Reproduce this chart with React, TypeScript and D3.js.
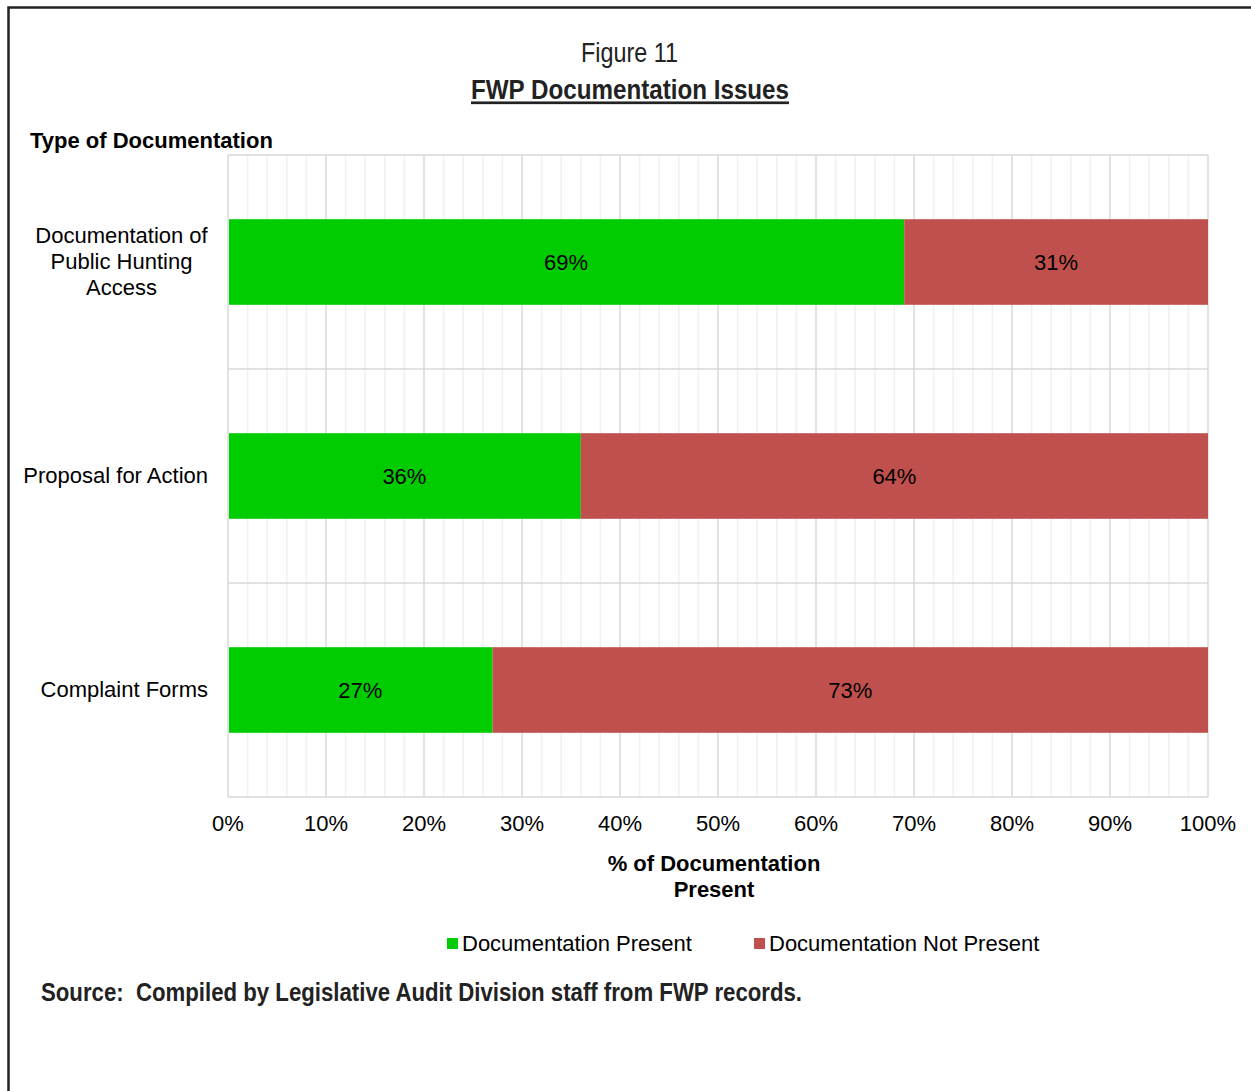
import React, { useRef, useEffect } from 'react';
import * as d3 from 'd3';

const categories = ['Documentation of\nPublic Hunting\nAccess', 'Proposal for Action', 'Complaint Forms'];
const presentValues = [69, 36, 27];
const notPresentValues = [31, 64, 73];
const seriesNames = ['Documentation Present', 'Documentation Not Present'];
const xTicks = [0, 10, 20, 30, 40, 50, 60, 70, 80, 90, 100];

const W = 1251;
const H = 1091;
const SANS = "'Liberation Sans', Arial, sans-serif";
const FS = '22px';

const App = () => {
  const ref = useRef<SVGSVGElement>(null);

  useEffect(() => {
    const svg = d3.select(ref.current).attr('width', W).attr('height', H);
    svg.selectAll('*').remove();

    svg.append('rect').attr('width', W).attr('height', H).attr('fill', '#fff');

    // outer frame (only left + top show)
    svg.append('path')
      .attr('d', `M8.5,${H} L8.5,7.5 L${W},7.5`)
      .attr('fill', 'none')
      .attr('stroke', '#222')
      .attr('stroke-width', 2.5);

    const left = 228, right = 1208, top = 155, bottom = 797;

    const x = d3.scaleLinear().domain([0, 100]).range([left, right]);
    const y = d3.scaleBand().domain(categories).range([top, bottom]);
    const barH = y.bandwidth() * 0.4;

    // minor gridlines
    svg.append('g').selectAll('line')
      .data(d3.range(0, 101, 2).filter(v => v % 10 !== 0))
      .enter().append('line')
      .attr('x1', d => x(d)).attr('x2', d => x(d))
      .attr('y1', top).attr('y2', bottom)
      .attr('stroke', '#f0f0f0').attr('stroke-width', 1.5);

    // major gridlines
    svg.append('g').selectAll('line')
      .data(xTicks)
      .enter().append('line')
      .attr('x1', d => x(d)).attr('x2', d => x(d))
      .attr('y1', top).attr('y2', bottom)
      .attr('stroke', '#d9d9d9').attr('stroke-width', 1.5);

    // horizontal separators between categories
    const seps = categories.map(c => y(c) as number).concat([bottom]);
    svg.append('g').selectAll('line')
      .data(seps)
      .enter().append('line')
      .attr('x1', left).attr('x2', right)
      .attr('y1', d => d).attr('y2', d => d)
      .attr('stroke', '#d9d9d9').attr('stroke-width', 1.5);

    // bars
    const rows = categories.map((c, i) => ({ c, p: presentValues[i], n: notPresentValues[i] }));
    const g = svg.append('g');
    rows.forEach(r => {
      const cy = (y(r.c) as number) + y.bandwidth() / 2;
      g.append('rect')
        .attr('x', x(0) + 1).attr('y', cy - barH / 2)
        .attr('width', x(r.p) - x(0) - 1).attr('height', barH)
        .attr('fill', '#00cc00');
      g.append('rect')
        .attr('x', x(r.p)).attr('y', cy - barH / 2)
        .attr('width', x(r.p + r.n) - x(r.p)).attr('height', barH)
        .attr('fill', '#c0504d');
      g.append('text')
        .attr('x', (x(0) + x(r.p)) / 2).attr('y', cy)
        .attr('dy', '0.35em').attr('text-anchor', 'middle')
        .style('font-family', SANS).style('font-size', FS)
        .text(`${r.p}%`);
      g.append('text')
        .attr('x', (x(r.p) + x(100)) / 2).attr('y', cy)
        .attr('dy', '0.35em').attr('text-anchor', 'middle')
        .style('font-family', SANS).style('font-size', FS)
        .text(`${r.n}%`);
    });

    // category labels
    categories.forEach(c => {
      const lines = c.split('\n');
      const cy = (y(c) as number) + y.bandwidth() / 2;
      const t = svg.append('text')
        .attr('text-anchor', lines.length > 1 ? 'middle' : 'end')
        .style('font-family', SANS).style('font-size', FS);
      lines.forEach((ln, i) => {
        t.append('tspan')
          .attr('x', lines.length > 1 ? 121.5 : 208)
          .attr('y', cy - 1 + (i - (lines.length - 1) / 2) * 26)
          .attr('dy', '0.35em')
          .text(ln);
      });
    });

    // x tick labels
    svg.append('g').selectAll('text')
      .data(xTicks)
      .enter().append('text')
      .attr('x', d => x(d)).attr('y', 823)
      .attr('dy', '0.35em').attr('text-anchor', 'middle')
      .style('font-family', SANS).style('font-size', FS)
      .text(d => `${d}%`);

    // axis titles
    svg.append('text')
      .attr('x', 30).attr('y', 148)
      .style('font-family', SANS).style('font-size', FS).style('font-weight', 'bold')
      .text('Type of Documentation');
    ['% of Documentation', 'Present'].forEach((ln, i) => {
      svg.append('text')
        .attr('x', 714).attr('y', 863 + i * 26)
        .attr('dy', '0.35em').attr('text-anchor', 'middle')
        .style('font-family', SANS).style('font-size', FS).style('font-weight', 'bold')
        .text(ln);
    });

    // titles (condensed face faked with textLength)
    svg.append('text')
      .attr('x', 581).attr('y', 53)
      .attr('dy', '0.35em')
      .attr('textLength', 97).attr('lengthAdjust', 'spacingAndGlyphs')
      .style('font-family', SANS).style('font-size', '27px')
      .attr('fill', '#222')
      .text('Figure 11');
    svg.append('text')
      .attr('x', 471).attr('y', 90)
      .attr('dy', '0.35em')
      .attr('textLength', 318).attr('lengthAdjust', 'spacingAndGlyphs')
      .style('font-family', SANS).style('font-size', '27px').style('font-weight', 'bold')
      .style('text-decoration', 'underline')
      .attr('fill', '#222')
      .text('FWP Documentation Issues');

    // legend
    const legendX = [447, 754];
    const colors = ['#00cc00', '#c0504d'];
    seriesNames.forEach((name, i) => {
      svg.append('rect')
        .attr('x', legendX[i]).attr('y', 938).attr('width', 11).attr('height', 11)
        .attr('fill', colors[i]);
      svg.append('text')
        .attr('x', legendX[i] + 15).attr('y', 943)
        .attr('dy', '0.35em')
        .style('font-family', SANS).style('font-size', FS)
        .text(name);
    });

    // source line
    svg.append('text')
      .attr('x', 41).attr('y', 992)
      .attr('dy', '0.35em')
      .attr('textLength', 761).attr('lengthAdjust', 'spacingAndGlyphs')
      .style('white-space', 'pre')
      .style('font-family', SANS).style('font-size', '25px').style('font-weight', 'bold')
      .attr('fill', '#222')
      .text('Source:  Compiled by Legislative Audit Division staff from FWP records.');
  }, []);

  return <svg ref={ref} style={{ position: 'absolute', left: 0, top: 0 }}></svg>;
};

export default App;
